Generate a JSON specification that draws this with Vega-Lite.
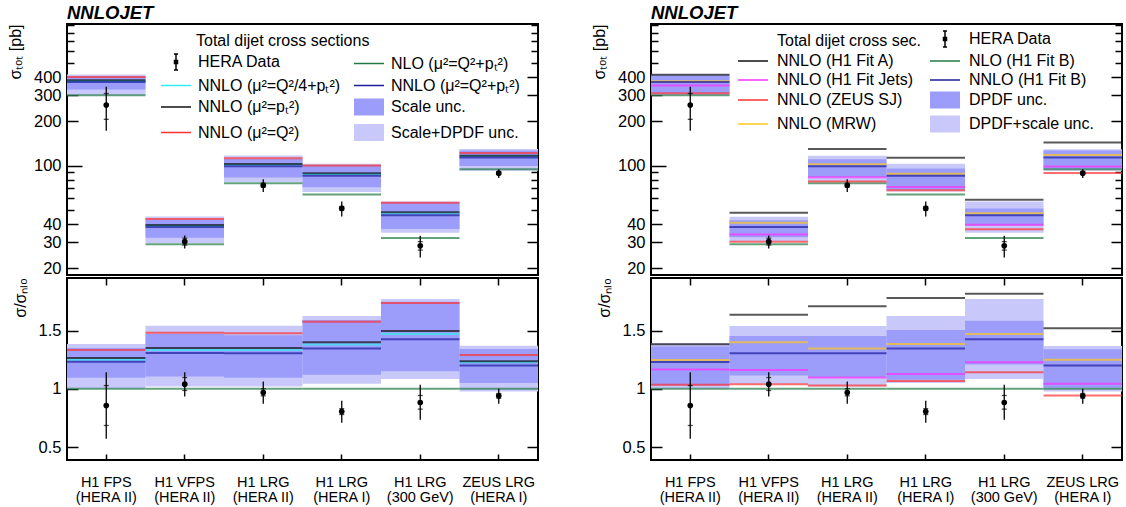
{
  "$schema": "https://vega.github.io/schema/vega-lite/v6.json",
  "padding": {"left": 6, "top": 2, "right": 2, "bottom": 0},
  "background": "white",
  "datasets": {
    "pts": [
      {"exp": "H1 FPS|(HERA II)", "xs": 258.0, "xs_lo": 172.5, "xs_hi": 344.0, "xs_ilo": 206.5, "xs_ihi": 309.4, "r": 0.857, "r_lo": 0.573, "r_hi": 1.143, "r_ilo": 0.686, "r_ihi": 1.028},
      {"exp": "H1 VFPS|(HERA II)", "xs": 30.37, "xs_lo": 27.27, "xs_hi": 33.38, "xs_ilo": 28.79, "xs_ihi": 32.03, "r": 1.04, "r_lo": 0.934, "r_hi": 1.143, "r_ilo": 0.986, "r_ihi": 1.097},
      {"exp": "H1 LRG|(HERA II)", "xs": 73.47, "xs_lo": 66.18, "xs_hi": 80.61, "xs_ilo": 71.35, "xs_ihi": 75.9, "r": 0.968, "r_lo": 0.872, "r_hi": 1.062, "r_ilo": 0.94, "r_ihi": 1.0},
      {"exp": "H1 LRG|(HERA I)", "xs": 51.18, "xs_lo": 45.02, "xs_hi": 56.96, "xs_ilo": 49.53, "xs_ihi": 52.71, "r": 0.806, "r_lo": 0.709, "r_hi": 0.897, "r_ilo": 0.78, "r_ihi": 0.83},
      {"exp": "H1 LRG|(300 GeV)", "xs": 28.43, "xs_lo": 23.67, "xs_hi": 33.29, "xs_ilo": 26.6, "xs_ihi": 30.36, "r": 0.883, "r_lo": 0.735, "r_hi": 1.034, "r_ilo": 0.826, "r_ihi": 0.943},
      {"exp": "ZEUS LRG|(HERA I)", "xs": 88.83, "xs_lo": 82.4, "xs_hi": 94.5, "xs_ilo": 86.94, "xs_ihi": 90.72, "r": 0.94, "r_lo": 0.872, "r_hi": 1.0, "r_ilo": 0.92, "r_ihi": 0.96}
    ],
    "bands_L": [
      {"exp": "H1 FPS|(HERA II)", "xs_alo": 301, "xs_ahi": 416.9, "xs_blo": 329.3, "xs_bhi": 406.4, "r_alo": 1.0, "r_ahi": 1.385, "r_blo": 1.094, "r_bhi": 1.35},
      {"exp": "H1 VFPS|(HERA II)", "xs_alo": 29.78, "xs_ahi": 45.0, "xs_blo": 32.27, "xs_bhi": 42.92, "r_alo": 1.02, "r_ahi": 1.541, "r_blo": 1.105, "r_bhi": 1.47},
      {"exp": "H1 LRG|(HERA II)", "xs_alo": 77.42, "xs_ahi": 117.0, "xs_blo": 83.03, "xs_bhi": 110.8, "r_alo": 1.02, "r_ahi": 1.541, "r_blo": 1.094, "r_bhi": 1.46},
      {"exp": "H1 LRG|(HERA I)", "xs_alo": 66.23, "xs_ahi": 103.1, "xs_blo": 71.12, "xs_bhi": 101.0, "r_alo": 1.043, "r_ahi": 1.624, "r_blo": 1.12, "r_bhi": 1.59},
      {"exp": "H1 LRG|(300 GeV)", "xs_alo": 34.94, "xs_ahi": 56.96, "xs_blo": 37.06, "xs_bhi": 56.22, "r_alo": 1.085, "r_ahi": 1.769, "r_blo": 1.151, "r_bhi": 1.746},
      {"exp": "ZEUS LRG|(HERA I)", "xs_alo": 92.33, "xs_ahi": 129.5, "xs_blo": 99.32, "xs_bhi": 126.8, "r_alo": 0.977, "r_ahi": 1.37, "r_blo": 1.051, "r_bhi": 1.342}
    ],
    "bands_R": [
      {"exp": "H1 FPS|(HERA II)", "xs_alo": 301, "xs_ahi": 418.4, "xs_blo": 309.4, "xs_bhi": 410.0, "r_alo": 1.0, "r_ahi": 1.39, "r_blo": 1.028, "r_bhi": 1.362},
      {"exp": "H1 VFPS|(HERA II)", "xs_alo": 30.46, "xs_ahi": 44.91, "xs_blo": 32.53, "xs_bhi": 42.43, "r_alo": 1.043, "r_ahi": 1.538, "r_blo": 1.114, "r_bhi": 1.453},
      {"exp": "H1 LRG|(HERA II)", "xs_alo": 77.42, "xs_ahi": 116.7, "xs_blo": 83.49, "xs_bhi": 110.3, "r_alo": 1.02, "r_ahi": 1.538, "r_blo": 1.1, "r_bhi": 1.453},
      {"exp": "H1 LRG|(HERA I)", "xs_alo": 66.61, "xs_ahi": 103.1, "xs_blo": 68.39, "xs_bhi": 95.5, "r_alo": 1.049, "r_ahi": 1.624, "r_blo": 1.077, "r_bhi": 1.504},
      {"exp": "H1 LRG|(300 GeV)", "xs_alo": 34.94, "xs_ahi": 56.96, "xs_blo": 38.9, "xs_bhi": 51.0, "r_alo": 1.085, "r_ahi": 1.769, "r_blo": 1.208, "r_bhi": 1.584},
      {"exp": "ZEUS LRG|(HERA I)", "xs_alo": 92.33, "xs_ahi": 129.3, "xs_blo": 95.45, "xs_bhi": 126.5, "r_alo": 0.977, "r_ahi": 1.368, "r_blo": 1.01, "r_bhi": 1.339}
    ],
    "lines_L": [
      {"exp": "H1 FPS|(HERA II)", "s": "nlo", "xs": 301, "r": 1},
      {"exp": "H1 VFPS|(HERA II)", "s": "nlo", "xs": 29.2, "r": 1},
      {"exp": "H1 LRG|(HERA II)", "s": "nlo", "xs": 75.9, "r": 1},
      {"exp": "H1 LRG|(HERA I)", "s": "nlo", "xs": 63.5, "r": 1},
      {"exp": "H1 LRG|(300 GeV)", "s": "nlo", "xs": 32.2, "r": 1},
      {"exp": "ZEUS LRG|(HERA I)", "s": "nlo", "xs": 94.5, "r": 1},
      {"exp": "H1 FPS|(HERA II)", "s": "q4", "xs": 376.3, "r": 1.25},
      {"exp": "H1 VFPS|(HERA II)", "s": "q4", "xs": 38.92, "r": 1.333},
      {"exp": "H1 LRG|(HERA II)", "s": "q4", "xs": 101.2, "r": 1.333},
      {"exp": "H1 LRG|(HERA I)", "s": "q4", "xs": 87.57, "r": 1.379},
      {"exp": "H1 LRG|(300 GeV)", "s": "q4", "xs": 47.33, "r": 1.47},
      {"exp": "ZEUS LRG|(HERA I)", "s": "q4", "xs": 116.0, "r": 1.228},
      {"exp": "H1 FPS|(HERA II)", "s": "pt", "xs": 380.8, "r": 1.265},
      {"exp": "H1 VFPS|(HERA II)", "s": "pt", "xs": 39.42, "r": 1.35},
      {"exp": "H1 LRG|(HERA II)", "s": "pt", "xs": 102.5, "r": 1.35},
      {"exp": "H1 LRG|(HERA I)", "s": "pt", "xs": 88.84, "r": 1.399},
      {"exp": "H1 LRG|(300 GeV)", "s": "pt", "xs": 48.17, "r": 1.496},
      {"exp": "ZEUS LRG|(HERA I)", "s": "pt", "xs": 116.9, "r": 1.237},
      {"exp": "H1 FPS|(HERA II)", "s": "q2", "xs": 401.2, "r": 1.333},
      {"exp": "H1 VFPS|(HERA II)", "s": "q2", "xs": 43.25, "r": 1.481},
      {"exp": "H1 LRG|(HERA II)", "s": "q2", "xs": 112.0, "r": 1.476},
      {"exp": "H1 LRG|(HERA I)", "s": "q2", "xs": 100.0, "r": 1.575},
      {"exp": "H1 LRG|(300 GeV)", "s": "q2", "xs": 55.87, "r": 1.735},
      {"exp": "ZEUS LRG|(HERA I)", "s": "q2", "xs": 121.9, "r": 1.29},
      {"exp": "H1 FPS|(HERA II)", "s": "qpt", "xs": 371.1, "r": 1.233},
      {"exp": "H1 VFPS|(HERA II)", "s": "qpt", "xs": 38.19, "r": 1.308},
      {"exp": "H1 LRG|(HERA II)", "s": "qpt", "xs": 99.05, "r": 1.305},
      {"exp": "H1 LRG|(HERA I)", "s": "qpt", "xs": 85.41, "r": 1.345},
      {"exp": "H1 LRG|(300 GeV)", "s": "qpt", "xs": 45.89, "r": 1.425},
      {"exp": "ZEUS LRG|(HERA I)", "s": "qpt", "xs": 113.4, "r": 1.2}
    ],
    "lines_R": [
      {"exp": "H1 FPS|(HERA II)", "s": "nlo", "xs": 301, "r": 1},
      {"exp": "H1 VFPS|(HERA II)", "s": "nlo", "xs": 29.2, "r": 1},
      {"exp": "H1 LRG|(HERA II)", "s": "nlo", "xs": 75.9, "r": 1},
      {"exp": "H1 LRG|(HERA I)", "s": "nlo", "xs": 63.5, "r": 1},
      {"exp": "H1 LRG|(300 GeV)", "s": "nlo", "xs": 32.2, "r": 1},
      {"exp": "ZEUS LRG|(HERA I)", "s": "nlo", "xs": 94.5, "r": 1},
      {"exp": "H1 FPS|(HERA II)", "s": "zeus", "xs": 311.2, "r": 1.034},
      {"exp": "H1 VFPS|(HERA II)", "s": "zeus", "xs": 30.37, "r": 1.04},
      {"exp": "H1 LRG|(HERA II)", "s": "zeus", "xs": 78.03, "r": 1.028},
      {"exp": "H1 LRG|(HERA I)", "s": "zeus", "xs": 67.82, "r": 1.068},
      {"exp": "H1 LRG|(300 GeV)", "s": "zeus", "xs": 36.8, "r": 1.143},
      {"exp": "ZEUS LRG|(HERA I)", "s": "zeus", "xs": 89.11, "r": 0.943},
      {"exp": "H1 FPS|(HERA II)", "s": "jets", "xs": 350.7, "r": 1.165},
      {"exp": "H1 VFPS|(HERA II)", "s": "jets", "xs": 33.93, "r": 1.162},
      {"exp": "H1 LRG|(HERA II)", "s": "jets", "xs": 83.26, "r": 1.097},
      {"exp": "H1 LRG|(HERA I)", "s": "jets", "xs": 71.63, "r": 1.128},
      {"exp": "H1 LRG|(300 GeV)", "s": "jets", "xs": 39.54, "r": 1.228},
      {"exp": "ZEUS LRG|(HERA I)", "s": "jets", "xs": 98.56, "r": 1.043},
      {"exp": "H1 FPS|(HERA II)", "s": "mrw", "xs": 375.6, "r": 1.248},
      {"exp": "H1 VFPS|(HERA II)", "s": "mrw", "xs": 40.85, "r": 1.399},
      {"exp": "H1 LRG|(HERA II)", "s": "mrw", "xs": 102.1, "r": 1.345},
      {"exp": "H1 LRG|(HERA I)", "s": "mrw", "xs": 87.95, "r": 1.385},
      {"exp": "H1 LRG|(300 GeV)", "s": "mrw", "xs": 47.33, "r": 1.47},
      {"exp": "ZEUS LRG|(HERA I)", "s": "mrw", "xs": 118.1, "r": 1.25},
      {"exp": "H1 FPS|(HERA II)", "s": "fitB", "xs": 371.1, "r": 1.231},
      {"exp": "H1 VFPS|(HERA II)", "s": "fitB", "xs": 38.19, "r": 1.305},
      {"exp": "H1 LRG|(HERA II)", "s": "fitB", "xs": 99.05, "r": 1.305},
      {"exp": "H1 LRG|(HERA I)", "s": "fitB", "xs": 85.41, "r": 1.345},
      {"exp": "H1 LRG|(300 GeV)", "s": "fitB", "xs": 45.89, "r": 1.425},
      {"exp": "ZEUS LRG|(HERA I)", "s": "fitB", "xs": 113.4, "r": 1.2},
      {"exp": "H1 FPS|(HERA II)", "s": "fitA", "xs": 416.0, "r": 1.382},
      {"exp": "H1 VFPS|(HERA II)", "s": "fitA", "xs": 47.74, "r": 1.635},
      {"exp": "H1 LRG|(HERA II)", "s": "fitA", "xs": 129.6, "r": 1.707},
      {"exp": "H1 LRG|(HERA I)", "s": "fitA", "xs": 112.9, "r": 1.778},
      {"exp": "H1 LRG|(300 GeV)", "s": "fitA", "xs": 58.44, "r": 1.815},
      {"exp": "ZEUS LRG|(HERA I)", "s": "fitA", "xs": 143.5, "r": 1.519}
    ],
    "leg_L": [
      {"leg": "HERA Data"}, {"leg": "NNLO (μ²=Q²/4+pₜ²)"}, {"leg": "NNLO (μ²=pₜ²)"}, {"leg": "NNLO (μ²=Q²)"},
      {"leg": "NLO (μ²=Q²+pₜ²)"}, {"leg": "NNLO (μ²=Q²+pₜ²)"}, {"leg": "Scale unc."}, {"leg": "Scale+DPDF unc."}
    ],
    "leg_R": [
      {"leg": "Total dijet cross sec."}, {"leg": "NNLO (H1 Fit A)"}, {"leg": "NNLO (H1 Fit Jets)"}, {"leg": "NNLO (ZEUS SJ)"}, {"leg": "NNLO (MRW)"},
      {"leg": "HERA Data"}, {"leg": "NLO (H1 Fit B)"}, {"leg": "NNLO (H1 Fit B)"}, {"leg": "DPDF unc."}, {"leg": "DPDF+scale unc."}
    ]
  },
  "hconcat": [
    {
      "vconcat": [
        {
          "width": 471, "height": 251,
          "title": {"text": "NNLOJET", "anchor": "start", "frame": "group", "fontSize": 18.5, "fontStyle": "italic", "fontWeight": "bold", "font": "Liberation Sans", "offset": 2, "color": "black"},
          "resolve": {"axis": {"y": "independent"}},
          "layer": [
            {
              "data": {"name": "bands_L"},
              "mark": {"type": "rect", "color": "#c8c8fa"},
              "encoding": {
                "x": {"field": "exp", "type": "nominal", "sort": null, "scale": {"domain": ["H1 FPS|(HERA II)", "H1 VFPS|(HERA II)", "H1 LRG|(HERA II)", "H1 LRG|(HERA I)", "H1 LRG|(300 GeV)", "ZEUS LRG|(HERA I)"], "paddingInner": 0, "paddingOuter": 0}, "axis": null},
                "y": {"field": "xs_alo", "type": "quantitative", "scale": {"type": "log", "domain": [18, 920], "nice": false},
                  "axis": {"orient": "left", "values": [20, 30, 40, 100, 200, 300, 400], "format": "d", "ticks": false, "tickSize": 0, "labelPadding": 6,
                    "title": "σₜₒₜ [pb]", "titleAnchor": "end",
                    "encode": {"labels": {"update": {"fontSize": {"value": 16.5}}}, "title": {"update": {"fontSize": {"value": 16}}}}}},
                "y2": {"field": "xs_ahi"}
              }
            },
            {
              "data": {"name": "bands_L"},
              "mark": {"type": "rect", "color": "#9c9cfa"},
              "encoding": {
                "x": {"field": "exp", "type": "nominal", "sort": null, "axis": null},
                "y": {"field": "xs_blo", "type": "quantitative",
                  "axis": {"orient": "right", "values": [20, 30, 40, 50, 60, 70, 80, 90, 100, 200, 300, 400, 500, 600, 700, 800, 900], "labels": false,
                    "tickSize": {"condition": [{"test": "datum.value == 100", "value": -15}, {"test": "indexof([20,30,40,200,300,400], datum.value) >= 0", "value": -11}], "value": -7},
                    "title": null}},
                "y2": {"field": "xs_bhi"}
              }
            },
            {
              "data": {"name": "lines_L"},
              "mark": {"type": "tick", "orient": "horizontal", "size": 78.5, "thickness": 2},
              "encoding": {
                "x": {"field": "exp", "type": "nominal", "sort": null, "axis": null},
                "y": {"field": "xs", "type": "quantitative",
                  "axis": {"orient": "left", "values": [20, 30, 40, 50, 60, 70, 80, 90, 100, 200, 300, 400, 500, 600, 700, 800, 900], "labels": false,
                    "tickSize": {"condition": [{"test": "datum.value == 100", "value": -15}, {"test": "indexof([20,30,40,200,300,400], datum.value) >= 0", "value": -11}], "value": -7},
                    "title": null}},
                "color": {"field": "s", "type": "nominal", "scale": {"domain": ["nlo", "q4", "pt", "q2", "qpt"], "range": ["#1f7a45", "#33eeee", "#111111", "#ff3030", "#1c1c9c"]}, "legend": null}
              }
            },
            {
              "data": {"name": "pts"},
              "mark": {"type": "rule", "color": "black", "strokeWidth": 1.3},
              "encoding": {
                "x": {"field": "exp", "type": "nominal", "sort": null, "axis": null},
                "y": {"field": "xs_lo", "type": "quantitative", "axis": null},
                "y2": {"field": "xs_hi"}
              }
            },
            {
              "data": {"name": "pts"},
              "mark": {"type": "tick", "orient": "horizontal", "size": 5, "thickness": 1.3, "color": "black"},
              "encoding": {
                "x": {"field": "exp", "type": "nominal", "sort": null, "axis": null},
                "y": {"field": "xs_ilo", "type": "quantitative", "axis": null}
              }
            },
            {
              "data": {"name": "pts"},
              "mark": {"type": "tick", "orient": "horizontal", "size": 5, "thickness": 1.3, "color": "black"},
              "encoding": {
                "x": {"field": "exp", "type": "nominal", "sort": null, "axis": null},
                "y": {"field": "xs_ihi", "type": "quantitative", "axis": null}
              }
            },
            {
              "data": {"name": "pts"},
              "mark": {"type": "point", "filled": true, "color": "black", "size": 32, "opacity": 1},
              "encoding": {
                "x": {"field": "exp", "type": "nominal", "sort": null, "axis": null},
                "y": {"field": "xs", "type": "quantitative", "axis": null}
              }
            },
            {
              "data": {"name": "leg_L"},
              "mark": {"type": "point", "opacity": 0},
              "encoding": {
                "fill": {"field": "leg", "type": "nominal",
                  "scale": {"domain": ["HERA Data", "NNLO (μ²=Q²/4+pₜ²)", "NNLO (μ²=pₜ²)", "NNLO (μ²=Q²)", "NLO (μ²=Q²+pₜ²)", "NNLO (μ²=Q²+pₜ²)", "Scale unc.", "Scale+DPDF unc."],
                    "range": ["black", "transparent", "transparent", "transparent", "transparent", "transparent", "#9c9cfa", "#c8c8fa"]},
                  "legend": {"orient": "none", "legendX": 98, "legendY": 9, "columns": 2, "title": "Total dijet cross sections", "titleFontSize": 16, "titleFontWeight": "normal", "titlePadding": 2, "labelFontSize": 16, "symbolSize": 400, "symbolStrokeWidth": 1.5, "symbolOpacity": 1, "labelOffset": 11, "columnPadding": 10, "rowPadding": 1.5, "labelLimit": 400,
                    "encode": {"title": {"update": {"dx": {"value": 31}}}}}},
                "stroke": {"field": "leg", "type": "nominal",
                  "scale": {"domain": ["HERA Data", "NNLO (μ²=Q²/4+pₜ²)", "NNLO (μ²=pₜ²)", "NNLO (μ²=Q²)", "NLO (μ²=Q²+pₜ²)", "NNLO (μ²=Q²+pₜ²)", "Scale unc.", "Scale+DPDF unc."],
                    "range": ["black", "#33eeee", "#111111", "#ff3030", "#1f7a45", "#1c1c9c", "transparent", "transparent"]},
                  "legend": {"orient": "none", "legendX": 98, "legendY": 9, "columns": 2, "title": "Total dijet cross sections", "titleFontSize": 16, "titleFontWeight": "normal", "titlePadding": 2, "labelFontSize": 16, "symbolSize": 400, "symbolStrokeWidth": 1.5, "symbolOpacity": 1, "labelOffset": 11, "columnPadding": 10, "rowPadding": 1.5, "labelLimit": 400,
                    "encode": {"title": {"update": {"dx": {"value": 31}}}}}},
                "shape": {"field": "leg", "type": "nominal",
                  "scale": {"domain": ["HERA Data", "NNLO (μ²=Q²/4+pₜ²)", "NNLO (μ²=pₜ²)", "NNLO (μ²=Q²)", "NLO (μ²=Q²+pₜ²)", "NNLO (μ²=Q²+pₜ²)", "Scale unc.", "Scale+DPDF unc."],
                    "range": ["M0,-0.8V0.8M-0.2,-0.8H0.2M-0.2,0.8H0.2M-0.15,-0.15H0.15V0.15H-0.15Z", "M-1.5,0H1.5", "M-1.5,0H1.5", "M-1.5,0H1.5", "M-1.5,0H1.5", "M-1.5,0H1.5", "M-1.5,-0.85H1.5V0.85H-1.5Z", "M-1.5,-0.85H1.5V0.85H-1.5Z"]},
                  "legend": {"orient": "none", "legendX": 98, "legendY": 9, "columns": 2, "title": "Total dijet cross sections", "titleFontSize": 16, "titleFontWeight": "normal", "titlePadding": 2, "labelFontSize": 16, "symbolSize": 400, "symbolStrokeWidth": 1.5, "symbolOpacity": 1, "labelOffset": 11, "columnPadding": 10, "rowPadding": 1.5, "labelLimit": 400,
                    "encode": {"title": {"update": {"dx": {"value": 31}}}}}}
              }
            }
          ]
        },
        {
          "width": 471, "height": 182,
          "resolve": {"axis": {"y": "independent", "x": "independent"}},
          "layer": [
            {
              "data": {"name": "bands_L"},
              "mark": {"type": "rect", "color": "#c8c8fa"},
              "encoding": {
                "x": {"field": "exp", "type": "nominal", "sort": null, "scale": {"domain": ["H1 FPS|(HERA II)", "H1 VFPS|(HERA II)", "H1 LRG|(HERA II)", "H1 LRG|(HERA I)", "H1 LRG|(300 GeV)", "ZEUS LRG|(HERA I)"], "paddingInner": 0, "paddingOuter": 0},
                  "axis": {"orient": "bottom", "labelExpr": "split(datum.value, '|')", "labelAngle": 0, "ticks": false, "tickSize": 0, "labelPadding": 15, "title": null,
                    "encode": {"labels": {"update": {"fontSize": {"value": 14.5}, "lineHeight": {"value": 15}}}}}},
                "y": {"field": "r_alo", "type": "quantitative", "scale": {"domain": [0.39, 1.95], "nice": false, "zero": false},
                  "axis": {"orient": "left", "values": [0.5, 1, 1.5], "format": "~g", "ticks": false, "tickSize": 0, "labelPadding": 6, "title": "σ/σₙₗₒ", "titleAnchor": "end",
                    "encode": {"labels": {"update": {"fontSize": {"value": 16.5}}}, "title": {"update": {"fontSize": {"value": 16}}}}}},
                "y2": {"field": "r_ahi"}
              }
            },
            {
              "data": {"name": "bands_L"},
              "mark": {"type": "rect", "color": "#9c9cfa"},
              "encoding": {
                "x": {"field": "exp", "type": "nominal", "sort": null, "axis": {"orient": "top", "labels": false, "tickSize": -7, "title": null}},
                "y": {"field": "r_blo", "type": "quantitative", "axis": {"orient": "right", "values": [0.5, 1, 1.5], "labels": false, "tickSize": -11, "title": null}},
                "y2": {"field": "r_bhi"}
              }
            },
            {
              "data": {"name": "lines_L"},
              "mark": {"type": "tick", "orient": "horizontal", "size": 78.5, "thickness": 2},
              "encoding": {
                "x": {"field": "exp", "type": "nominal", "sort": null, "axis": {"orient": "bottom", "labels": false, "tickSize": -6, "title": null}},
                "y": {"field": "r", "type": "quantitative", "axis": {"orient": "left", "values": [0.5, 1, 1.5], "labels": false, "tickSize": -11, "title": null}},
                "color": {"field": "s", "type": "nominal", "scale": {"domain": ["nlo", "q4", "pt", "q2", "qpt"], "range": ["#1f7a45", "#33eeee", "#111111", "#ff3030", "#1c1c9c"]}, "legend": null}
              }
            },
            {
              "data": {"name": "pts"},
              "mark": {"type": "rule", "color": "black", "strokeWidth": 1.3},
              "encoding": {
                "x": {"field": "exp", "type": "nominal", "sort": null, "axis": null},
                "y": {"field": "r_lo", "type": "quantitative", "axis": null},
                "y2": {"field": "r_hi"}
              }
            },
            {
              "data": {"name": "pts"},
              "mark": {"type": "tick", "orient": "horizontal", "size": 5, "thickness": 1.3, "color": "black"},
              "encoding": {
                "x": {"field": "exp", "type": "nominal", "sort": null, "axis": null},
                "y": {"field": "r_ilo", "type": "quantitative", "axis": null}
              }
            },
            {
              "data": {"name": "pts"},
              "mark": {"type": "tick", "orient": "horizontal", "size": 5, "thickness": 1.3, "color": "black"},
              "encoding": {
                "x": {"field": "exp", "type": "nominal", "sort": null, "axis": null},
                "y": {"field": "r_ihi", "type": "quantitative", "axis": null}
              }
            },
            {
              "data": {"name": "pts"},
              "mark": {"type": "point", "filled": true, "color": "black", "size": 32, "opacity": 1},
              "encoding": {
                "x": {"field": "exp", "type": "nominal", "sort": null, "axis": null},
                "y": {"field": "r", "type": "quantitative", "axis": null}
              }
            }
          ]
        }
      ],
      "spacing": -8,
      "resolve": {"scale": {"y": "independent", "color": "independent", "fill": "independent", "stroke": "independent", "shape": "independent"}}
    },
    {
      "vconcat": [
        {
          "width": 471, "height": 251,
          "title": {"text": "NNLOJET", "anchor": "start", "frame": "group", "fontSize": 18.5, "fontStyle": "italic", "fontWeight": "bold", "font": "Liberation Sans", "offset": 2, "color": "black"},
          "resolve": {"axis": {"y": "independent"}},
          "layer": [
            {
              "data": {"name": "bands_R"},
              "mark": {"type": "rect", "color": "#c8c8fa"},
              "encoding": {
                "x": {"field": "exp", "type": "nominal", "sort": null, "scale": {"domain": ["H1 FPS|(HERA II)", "H1 VFPS|(HERA II)", "H1 LRG|(HERA II)", "H1 LRG|(HERA I)", "H1 LRG|(300 GeV)", "ZEUS LRG|(HERA I)"], "paddingInner": 0, "paddingOuter": 0}, "axis": null},
                "y": {"field": "xs_alo", "type": "quantitative", "scale": {"type": "log", "domain": [18, 920], "nice": false},
                  "axis": {"orient": "left", "values": [20, 30, 40, 100, 200, 300, 400], "format": "d", "ticks": false, "tickSize": 0, "labelPadding": 6,
                    "title": "σₜₒₜ [pb]", "titleAnchor": "end",
                    "encode": {"labels": {"update": {"fontSize": {"value": 16.5}}}, "title": {"update": {"fontSize": {"value": 16}}}}}},
                "y2": {"field": "xs_ahi"}
              }
            },
            {
              "data": {"name": "bands_R"},
              "mark": {"type": "rect", "color": "#9c9cfa"},
              "encoding": {
                "x": {"field": "exp", "type": "nominal", "sort": null, "axis": null},
                "y": {"field": "xs_blo", "type": "quantitative",
                  "axis": {"orient": "right", "values": [20, 30, 40, 50, 60, 70, 80, 90, 100, 200, 300, 400, 500, 600, 700, 800, 900], "labels": false,
                    "tickSize": {"condition": [{"test": "datum.value == 100", "value": -15}, {"test": "indexof([20,30,40,200,300,400], datum.value) >= 0", "value": -11}], "value": -7},
                    "title": null}},
                "y2": {"field": "xs_bhi"}
              }
            },
            {
              "data": {"name": "lines_R"},
              "mark": {"type": "tick", "orient": "horizontal", "size": 78.5, "thickness": 2},
              "encoding": {
                "x": {"field": "exp", "type": "nominal", "sort": null, "axis": null},
                "y": {"field": "xs", "type": "quantitative",
                  "axis": {"orient": "left", "values": [20, 30, 40, 50, 60, 70, 80, 90, 100, 200, 300, 400, 500, 600, 700, 800, 900], "labels": false,
                    "tickSize": {"condition": [{"test": "datum.value == 100", "value": -15}, {"test": "indexof([20,30,40,200,300,400], datum.value) >= 0", "value": -11}], "value": -7},
                    "title": null}},
                "color": {"field": "s", "type": "nominal", "scale": {"domain": ["nlo", "zeus", "jets", "mrw", "fitB", "fitA"], "range": ["#1f7a45", "#ff3030", "#ff30ff", "#ffc81e", "#1c1c9c", "#111111"]}, "legend": null}
              }
            },
            {
              "data": {"name": "pts"},
              "mark": {"type": "rule", "color": "black", "strokeWidth": 1.3},
              "encoding": {
                "x": {"field": "exp", "type": "nominal", "sort": null, "axis": null},
                "y": {"field": "xs_lo", "type": "quantitative", "axis": null},
                "y2": {"field": "xs_hi"}
              }
            },
            {
              "data": {"name": "pts"},
              "mark": {"type": "tick", "orient": "horizontal", "size": 5, "thickness": 1.3, "color": "black"},
              "encoding": {
                "x": {"field": "exp", "type": "nominal", "sort": null, "axis": null},
                "y": {"field": "xs_ilo", "type": "quantitative", "axis": null}
              }
            },
            {
              "data": {"name": "pts"},
              "mark": {"type": "tick", "orient": "horizontal", "size": 5, "thickness": 1.3, "color": "black"},
              "encoding": {
                "x": {"field": "exp", "type": "nominal", "sort": null, "axis": null},
                "y": {"field": "xs_ihi", "type": "quantitative", "axis": null}
              }
            },
            {
              "data": {"name": "pts"},
              "mark": {"type": "point", "filled": true, "color": "black", "size": 32, "opacity": 1},
              "encoding": {
                "x": {"field": "exp", "type": "nominal", "sort": null, "axis": null},
                "y": {"field": "xs", "type": "quantitative", "axis": null}
              }
            },
            {
              "data": {"name": "leg_R"},
              "mark": {"type": "point", "opacity": 0},
              "encoding": {
                "fill": {"field": "leg", "type": "nominal",
                  "scale": {"domain": ["Total dijet cross sec.", "NNLO (H1 Fit A)", "NNLO (H1 Fit Jets)", "NNLO (ZEUS SJ)", "NNLO (MRW)", "HERA Data", "NLO (H1 Fit B)", "NNLO (H1 Fit B)", "DPDF unc.", "DPDF+scale unc."],
                    "range": ["transparent", "transparent", "transparent", "transparent", "transparent", "black", "transparent", "transparent", "#9c9cfa", "#c8c8fa"]},
                  "legend": {"orient": "none", "legendX": 91, "legendY": 4, "columns": 2, "title": null, "labelFontSize": 16, "symbolSize": 400, "symbolStrokeWidth": 1.5, "symbolOpacity": 1, "labelOffset": 13, "columnPadding": 5, "rowPadding": 0, "labelLimit": 400}},
                "stroke": {"field": "leg", "type": "nominal",
                  "scale": {"domain": ["Total dijet cross sec.", "NNLO (H1 Fit A)", "NNLO (H1 Fit Jets)", "NNLO (ZEUS SJ)", "NNLO (MRW)", "HERA Data", "NLO (H1 Fit B)", "NNLO (H1 Fit B)", "DPDF unc.", "DPDF+scale unc."],
                    "range": ["transparent", "#111111", "#ff30ff", "#ff3030", "#ffc81e", "black", "#1f7a45", "#1c1c9c", "transparent", "transparent"]},
                  "legend": {"orient": "none", "legendX": 91, "legendY": 4, "columns": 2, "title": null, "labelFontSize": 16, "symbolSize": 400, "symbolStrokeWidth": 1.5, "symbolOpacity": 1, "labelOffset": 13, "columnPadding": 5, "rowPadding": 0, "labelLimit": 400}},
                "shape": {"field": "leg", "type": "nominal",
                  "scale": {"domain": ["Total dijet cross sec.", "NNLO (H1 Fit A)", "NNLO (H1 Fit Jets)", "NNLO (ZEUS SJ)", "NNLO (MRW)", "HERA Data", "NLO (H1 Fit B)", "NNLO (H1 Fit B)", "DPDF unc.", "DPDF+scale unc."],
                    "range": ["M0,0", "M-1.5,0H1.5", "M-1.5,0H1.5", "M-1.5,0H1.5", "M-1.5,0H1.5", "M0,-0.8V0.8M-0.2,-0.8H0.2M-0.2,0.8H0.2M-0.15,-0.15H0.15V0.15H-0.15Z", "M-1.5,0H1.5", "M-1.5,0H1.5", "M-1.5,-0.85H1.5V0.85H-1.5Z", "M-1.5,-0.85H1.5V0.85H-1.5Z"]},
                  "legend": {"orient": "none", "legendX": 91, "legendY": 4, "columns": 2, "title": null, "labelFontSize": 16, "symbolSize": 400, "symbolStrokeWidth": 1.5, "symbolOpacity": 1, "labelOffset": 13, "columnPadding": 5, "rowPadding": 0, "labelLimit": 400}}
              }
            }
          ]
        },
        {
          "width": 471, "height": 182,
          "resolve": {"axis": {"y": "independent", "x": "independent"}},
          "layer": [
            {
              "data": {"name": "bands_R"},
              "mark": {"type": "rect", "color": "#c8c8fa"},
              "encoding": {
                "x": {"field": "exp", "type": "nominal", "sort": null, "scale": {"domain": ["H1 FPS|(HERA II)", "H1 VFPS|(HERA II)", "H1 LRG|(HERA II)", "H1 LRG|(HERA I)", "H1 LRG|(300 GeV)", "ZEUS LRG|(HERA I)"], "paddingInner": 0, "paddingOuter": 0},
                  "axis": {"orient": "bottom", "labelExpr": "split(datum.value, '|')", "labelAngle": 0, "ticks": false, "tickSize": 0, "labelPadding": 15, "title": null,
                    "encode": {"labels": {"update": {"fontSize": {"value": 14.5}, "lineHeight": {"value": 15}}}}}},
                "y": {"field": "r_alo", "type": "quantitative", "scale": {"domain": [0.39, 1.95], "nice": false, "zero": false},
                  "axis": {"orient": "left", "values": [0.5, 1, 1.5], "format": "~g", "ticks": false, "tickSize": 0, "labelPadding": 6, "title": "σ/σₙₗₒ", "titleAnchor": "end",
                    "encode": {"labels": {"update": {"fontSize": {"value": 16.5}}}, "title": {"update": {"fontSize": {"value": 16}}}}}},
                "y2": {"field": "r_ahi"}
              }
            },
            {
              "data": {"name": "bands_R"},
              "mark": {"type": "rect", "color": "#9c9cfa"},
              "encoding": {
                "x": {"field": "exp", "type": "nominal", "sort": null, "axis": {"orient": "top", "labels": false, "tickSize": -7, "title": null}},
                "y": {"field": "r_blo", "type": "quantitative", "axis": {"orient": "right", "values": [0.5, 1, 1.5], "labels": false, "tickSize": -11, "title": null}},
                "y2": {"field": "r_bhi"}
              }
            },
            {
              "data": {"name": "lines_R"},
              "mark": {"type": "tick", "orient": "horizontal", "size": 78.5, "thickness": 2},
              "encoding": {
                "x": {"field": "exp", "type": "nominal", "sort": null, "axis": {"orient": "bottom", "labels": false, "tickSize": -6, "title": null}},
                "y": {"field": "r", "type": "quantitative", "axis": {"orient": "left", "values": [0.5, 1, 1.5], "labels": false, "tickSize": -11, "title": null}},
                "color": {"field": "s", "type": "nominal", "scale": {"domain": ["nlo", "zeus", "jets", "mrw", "fitB", "fitA"], "range": ["#1f7a45", "#ff3030", "#ff30ff", "#ffc81e", "#1c1c9c", "#111111"]}, "legend": null}
              }
            },
            {
              "data": {"name": "pts"},
              "mark": {"type": "rule", "color": "black", "strokeWidth": 1.3},
              "encoding": {
                "x": {"field": "exp", "type": "nominal", "sort": null, "axis": null},
                "y": {"field": "r_lo", "type": "quantitative", "axis": null},
                "y2": {"field": "r_hi"}
              }
            },
            {
              "data": {"name": "pts"},
              "mark": {"type": "tick", "orient": "horizontal", "size": 5, "thickness": 1.3, "color": "black"},
              "encoding": {
                "x": {"field": "exp", "type": "nominal", "sort": null, "axis": null},
                "y": {"field": "r_ilo", "type": "quantitative", "axis": null}
              }
            },
            {
              "data": {"name": "pts"},
              "mark": {"type": "tick", "orient": "horizontal", "size": 5, "thickness": 1.3, "color": "black"},
              "encoding": {
                "x": {"field": "exp", "type": "nominal", "sort": null, "axis": null},
                "y": {"field": "r_ihi", "type": "quantitative", "axis": null}
              }
            },
            {
              "data": {"name": "pts"},
              "mark": {"type": "point", "filled": true, "color": "black", "size": 32, "opacity": 1},
              "encoding": {
                "x": {"field": "exp", "type": "nominal", "sort": null, "axis": null},
                "y": {"field": "r", "type": "quantitative", "axis": null}
              }
            }
          ]
        }
      ],
      "spacing": -8,
      "resolve": {"scale": {"y": "independent", "color": "independent", "fill": "independent", "stroke": "independent", "shape": "independent"}}
    }
  ],
  "spacing": 50,
  "resolve": {"scale": {"x": "independent", "y": "independent", "color": "independent", "fill": "independent", "stroke": "independent", "shape": "independent"}},
  "config": {
    "font": "Liberation Sans",
    "view": {"stroke": "black", "strokeWidth": 2},
    "axis": {"domain": false, "grid": false, "tickColor": "black", "tickWidth": 1.5, "labelColor": "black", "titleColor": "black", "labelFont": "Liberation Sans", "titleFont": "Liberation Sans", "titleFontWeight": "normal"},
    "axisX": {"labelFontSize": 14.5, "labelLineHeight": 15},
    "axisY": {"labelFontSize": 16.5, "titleFontSize": 16, "titlePadding": 10},
    "legend": {"labelColor": "black", "titleColor": "black", "labelFont": "Liberation Sans", "titleFont": "Liberation Sans"}
  }
}
